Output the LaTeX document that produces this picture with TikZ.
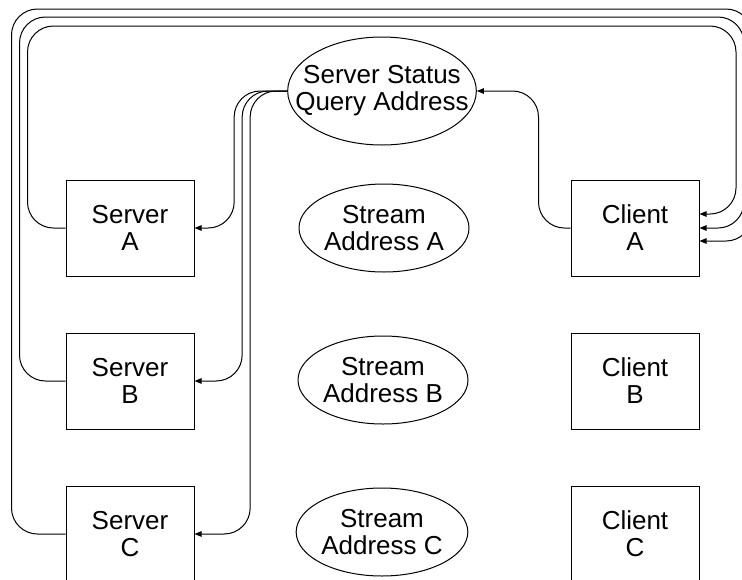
\documentclass[tikz,border=0pt]{standalone}
\usepackage{fontspec}
\setmainfont{Liberation Sans}
\usetikzlibrary{shapes.geometric,positioning,arrows.meta}

\tikzset{
	box/.style={draw, line width=1pt, minimum width=128pt, minimum height=96pt, inner sep=0pt, align=center},
	addr/.style={draw, ellipse, line width=1pt, minimum width=170pt, minimum height=88pt, inner sep=0pt, align=center},
	wire/.style={draw, line width=1pt, rounded corners=26pt, -{Triangle[length=7pt,width=5.5pt]}},
}

\begin{document}
\begin{tikzpicture}[x=1pt, y=-1pt, font=\fontsize{26}{27}\selectfont]
		\useasboundingbox (0,0) rectangle (742,579);
		% servers on the left, clients on the right
		\node[box] (serverA) at (130,228) {Server\\A};
		\node[box, below=56pt of serverA] (serverB) {Server\\B};
		\node[box, below=56pt of serverB] (serverC) {Server\\C};
		\node[box, right=376pt of serverA] (clientA) {Client\\A};
		\node[box, right=376pt of serverB] (clientB) {Client\\B};
		\node[box, right=376pt of serverC] (clientC) {Client\\C};
		% multicast addresses
		\node[addr, inner xsep=-20pt, minimum height=108pt] (query) at (382,91) {Server Status\\Query Address};
		\node[addr] (streamA) at (384,228) {Stream\\Address A};
		\node[addr] (streamB) at (383,380) {Stream\\Address B};
		\node[addr] (streamC) at (382,532) {Stream\\Address C};
		% status query from the client
		\draw[wire] (clientA.west) -- ++(-32,0) |- (query.east);
		% query fan-out to the servers
		\draw[wire] (query.west) -- ++(-53,0) |- (serverA.east);
		\draw[wire] (query.west) -- ++(-45,0) |- (serverB.east);
		\draw[wire] (query.west) -- ++(-37,0) |- (serverC.east);
		% server replies looping over the top
		\draw[wire] (serverA.west) -- ++(-38,0) |- (736,26) |- ([yshift=14pt]clientA.east);
		\draw[wire] (serverB.west) -- ++(-46,0) |- (744,17) |- (clientA.east);
		\draw[wire] (serverC.west) -- ++(-54,0) |- (752,9) |- ([yshift=-13pt]clientA.east);
	\end{tikzpicture}
\end{document}
